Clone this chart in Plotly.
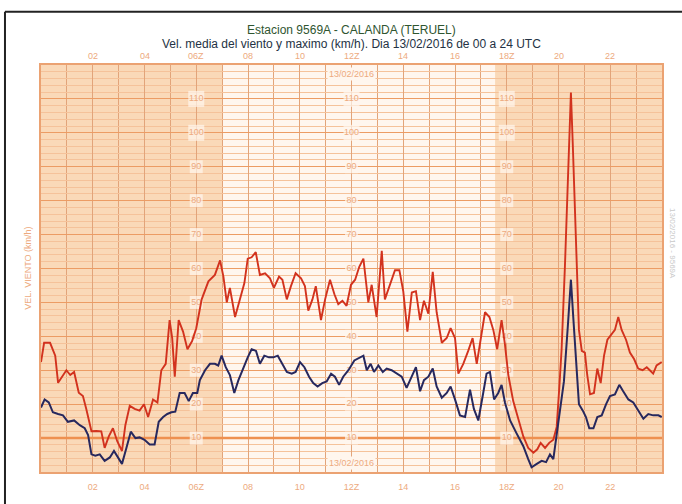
import plotly.graph_objects as go

# Wind record, station 9569A, 13/02/2016 (hours UTC, km/h)
gust_hours = [0.0, 0.12, 0.35, 0.55, 0.66, 0.81, 0.98, 1.13, 1.28, 1.46, 1.62, 1.75, 1.95, 2.14, 2.33,
              2.46, 2.62, 2.78, 2.95, 3.13, 3.26, 3.43, 3.62, 3.81, 3.98, 4.14, 4.33, 4.5, 4.65, 4.82,
              4.97, 5.07, 5.17, 5.32, 5.49, 5.66, 5.84, 6.0, 6.21, 6.47, 6.72, 6.92, 7.05, 7.18, 7.3,
              7.5, 7.69, 7.86, 7.99, 8.14, 8.3, 8.46, 8.66, 8.85, 9.0, 9.2, 9.33, 9.5, 9.66, 9.84,
              10.05, 10.2, 10.33, 10.49, 10.62, 10.82, 10.98, 11.17, 11.34, 11.49, 11.65, 11.81, 11.98,
              12.14, 12.3, 12.46, 12.65, 12.78, 12.97, 13.17, 13.29, 13.49, 13.68, 13.85, 14.0, 14.16,
              14.33, 14.49, 14.65, 14.8, 14.97, 15.14, 15.29, 15.49, 15.68, 15.83, 16.0, 16.13, 16.32,
              16.51, 16.68, 16.84, 16.99, 17.16, 17.33, 17.48, 17.63, 17.8, 17.93, 18.06, 18.25, 18.45,
              18.64, 18.83, 19.03, 19.18, 19.31, 19.48, 19.64, 19.8, 19.93, 20.03, 20.12, 20.25, 20.36,
              20.42, 20.48, 20.55, 20.64, 20.73, 20.79, 20.9, 21.02, 21.11, 21.22, 21.37, 21.5, 21.63,
              21.76, 21.89, 22.06, 22.18, 22.31, 22.44, 22.61, 22.76, 22.92, 23.08, 23.25, 23.41, 23.53,
              23.66, 23.79, 23.99]
gust_kmh = [32.4, 38.1, 38.1, 34.3, 26.3, 28.1, 30.0, 28.6, 29.5, 23.4, 22.4, 18.6, 12.0, 12.1, 12.0,
            7.1, 10.5, 12.9, 9.0, 6.2, 13.8, 19.5, 18.6, 18.1, 20.0, 16.2, 21.4, 20.5, 30.0, 31.9,
            44.8, 39.5, 28.1, 44.8, 41.4, 36.2, 38.6, 42.4, 50.9, 56.2, 58.1, 62.4, 57.6, 50.0, 54.3,
            45.7, 51.4, 55.7, 62.9, 63.3, 64.8, 58.1, 58.6, 57.1, 54.3, 57.6, 56.7, 50.9, 54.8, 58.6,
            57.1, 54.8, 47.6, 50.9, 54.8, 44.8, 50.9, 56.7, 52.4, 49.5, 50.5, 49.0, 55.2,
            56.7, 60.5, 62.9, 50.0, 55.2, 45.7, 65.2, 50.9, 55.2, 59.5, 59.5, 53.3, 41.4,
            52.9, 53.3, 44.8, 50.5, 46.7, 59.0, 47.1, 38.1, 39.5, 42.4, 39.5, 29.0, 31.9,
            35.7, 39.5, 31.9, 39.5, 47.1, 45.7, 41.9, 36.2, 44.8, 37.6, 28.6, 20.9, 15.2,
            10.5, 7.1, 5.7, 6.7, 8.6, 7.1, 8.6, 9.5, 13.3, 24.8, 36.2, 61.0, 83.8,
            97.1, 111.9, 97.1, 76.2, 61.0, 41.9, 35.7, 35.2, 28.6, 22.9, 23.3, 30.5, 26.2,
            34.3, 39.0, 40.9, 41.9, 45.7, 41.9, 39.0, 35.2, 33.3, 30.5, 30.0, 30.9, 30.0,
            29.0, 31.4, 32.4]

mean_hours = [0.0, 0.14, 0.3, 0.46, 0.66, 0.85, 1.04, 1.28, 1.5, 1.69, 1.82, 1.95, 2.1, 2.27, 2.46,
              2.66, 2.82, 2.98, 3.13, 3.3, 3.47, 3.65, 3.81, 4.0, 4.2, 4.39, 4.55, 4.72, 4.88, 5.04,
              5.19, 5.36, 5.55, 5.71, 5.87, 6.04, 6.14, 6.34, 6.53, 6.72, 6.85, 6.98, 7.14, 7.3, 7.47,
              7.63, 7.82, 7.99, 8.14, 8.31, 8.46, 8.63, 8.81, 8.98, 9.15, 9.33, 9.5, 9.69, 9.84, 10.01,
              10.18, 10.36, 10.52, 10.69, 10.87, 11.04, 11.21, 11.36, 11.52, 11.68, 11.88, 12.11, 12.33,
              12.46, 12.59, 12.74, 12.87, 13.04, 13.21, 13.36, 13.55, 13.75, 13.94, 14.13, 14.33, 14.49,
              14.65, 14.8, 14.97, 15.14, 15.29, 15.49, 15.68, 15.83, 16.0, 16.19, 16.39, 16.58, 16.73,
              16.9, 17.07, 17.22, 17.35, 17.51, 17.67, 17.8, 17.93, 18.13, 18.38, 18.64, 18.83, 18.96,
              19.16, 19.35, 19.52, 19.67, 19.8, 19.9, 20.06, 20.21, 20.36, 20.48, 20.57, 20.68, 20.79,
              20.94, 21.06, 21.19, 21.35, 21.5, 21.67, 21.84, 21.99, 22.18, 22.35, 22.5, 22.7, 22.89,
              23.08, 23.28, 23.47, 23.66, 23.86, 23.99]
mean_kmh = [19.0, 21.4, 20.5, 17.6, 17.1, 16.7, 14.8, 15.2, 13.8, 12.9, 10.9, 5.2, 4.8, 5.2, 3.3,
            4.3, 6.2, 4.3, 2.4, 7.1, 11.9, 10.0, 10.2, 9.5, 8.1, 8.1, 14.8, 16.2, 17.1, 17.6,
            17.8, 23.3, 23.3, 20.9, 23.3, 23.3, 27.1, 30.0, 31.9, 31.9, 31.4, 34.3, 30.9, 28.6, 23.3,
            27.1, 30.9, 33.8, 36.2, 35.7, 31.9, 34.3, 33.8, 33.8, 34.3, 31.9, 29.5, 29.0, 29.5, 32.4,
            30.9, 28.1, 26.2, 25.2, 26.2, 26.7, 29.0, 28.1, 25.7, 28.1, 30.0, 32.9, 33.8,
            34.3, 30.0, 31.9, 29.5, 31.4, 29.5, 30.5, 30.0, 29.0, 28.1, 24.8, 28.1, 30.9,
            23.8, 27.1, 28.1, 30.5, 25.2, 21.9, 23.3, 25.2, 21.4, 16.7, 16.2, 24.3, 18.6,
            15.2, 22.4, 29.0, 29.5, 21.4, 23.3, 25.7, 20.5, 15.2, 11.4, 7.6, 3.8, 1.4,
            2.4, 3.3, 2.9, 5.2, 3.8, 9.5, 17.1, 26.7, 42.9, 56.7, 45.7, 33.3, 20.0,
            18.1, 16.2, 12.9, 12.9, 16.2, 16.7, 20.0, 22.4, 22.9, 25.7, 23.8, 21.4, 20.5,
            18.1, 15.7, 17.1, 16.7, 16.7, 16.2]

hour_ticks = [2, 4, 6, 8, 10, 12, 14, 16, 18, 20, 22]
hour_labels = ["02", "04", "06Z", "08", "10", "12Z", "14", "16", "18Z", "20", "22"]
speed_labels = [10, 20, 30, 40, 50, 60, 70, 80, 90, 100, 110]
label_hours = [6, 12, 18]
night_spans = [(0, 7.0), (17.55, 24)]

ORANGE = "#EBA272"
TXT = "#EDAA7E"
BG = "#FFF6EE"
FONT = "Liberation Sans Narrow, Arial Narrow, Liberation Sans, sans-serif"

fig = go.Figure()
# heavier guide line at 10 km/h
fig.add_trace(go.Scatter(x=[0, 24], y=[10, 10], mode="lines", hoverinfo="skip",
                         line=dict(color="#EE9050", width=2.5), name="ref"))
# speed scale written along the 06Z, 12Z and 18Z lines (beneath the curves)
lab_x = [h for h in label_hours for _ in speed_labels]
lab_y = [v for _ in label_hours for v in speed_labels]
fig.add_trace(go.Scatter(
    x=lab_x, y=lab_y, mode="markers+text", text=[str(v) for v in lab_y],
    textposition="middle center", hoverinfo="skip", name="escala",
    textfont=dict(family=FONT, size=9, color=TXT),
    marker=dict(symbol="square", color=BG, size=[16 if v >= 100 else 13 for v in lab_y],
                line=dict(width=0))))
fig.add_trace(go.Scatter(x=gust_hours, y=gust_kmh, mode="lines",
                         line=dict(color="#D2321E", width=1.9), name="Racha"))
fig.add_trace(go.Scatter(x=mean_hours, y=mean_kmh, mode="lines",
                         line=dict(color="#27285E", width=2), name="Media"))

shapes = []
# night shading behind the grid
for x0, x1 in night_spans:
    shapes.append(dict(type="rect", xref="x", yref="y", x0=x0, x1=x1, y0=0, y1=120,
                       fillcolor="#FAD9B8", line=dict(width=0), layer="below"))
# page frame
shapes.append(dict(type="line", xref="paper", yref="paper", x0=-0.058, x1=1.2, y0=1.131, y1=1.131,
                   line=dict(color="#222222", width=2)))
shapes.append(dict(type="line", xref="paper", yref="paper", x0=-0.058, x1=-0.058, y0=1.131, y1=-0.2,
                   line=dict(color="#222222", width=2)))

annotations = []
for h, t in zip(hour_ticks, hour_labels):
    annotations.append(dict(x=h, y=1.0, xref="x", yref="paper", yanchor="bottom", yshift=2,
                            text=t, showarrow=False, font=dict(family=FONT, size=9, color=TXT)))
annotations += [
    dict(x=12, y=1.0, xref="x", yref="paper", yanchor="top", yshift=-2, text="13/02/2016",
         showarrow=False, font=dict(family=FONT, size=9, color=TXT), bgcolor=BG),
    dict(x=12, y=0.0, xref="x", yref="paper", yanchor="bottom", yshift=2, text="13/02/2016",
         showarrow=False, font=dict(family=FONT, size=9, color=TXT), bgcolor=BG),
    dict(x=-0.022, y=0.5, xref="paper", yref="paper", xanchor="center", yanchor="middle",
         text="VEL. VIENTO (km/h)", textangle=-90,
         showarrow=False, font=dict(family=FONT, size=9, color=TXT)),
    dict(x=1.0177, y=0.56, xref="paper", yref="paper", xanchor="center", yanchor="middle",
         text="13/02/2016 - 9569A", textangle=90,
         showarrow=False, font=dict(family=FONT, size=8, color="#C9C9C9")),
    dict(x=0.5, y=1.0857, xref="paper", yref="paper", yanchor="middle", borderpad=0,
         text="Estacion 9569A - CALANDA (TERUEL)",
         showarrow=False, font=dict(family=FONT, size=12, color="#2F5530")),
    dict(x=0.5, y=1.0512, xref="paper", yref="paper", yanchor="middle", borderpad=0,
         text="Vel. media del viento y maximo (km/h). Dia 13/02/2016 de 00 a 24 UTC",
         showarrow=False, font=dict(family=FONT, size=12, color="#243244")),
]

fig.update_layout(
    width=682, height=504,
    margin=dict(l=41, r=20, t=65, b=19),
    paper_bgcolor="white", plot_bgcolor=BG,
    showlegend=False,
    shapes=shapes, annotations=annotations,
    xaxis=dict(range=[0, 24], tickvals=hour_ticks, ticktext=hour_labels, ticks="",
               tickfont=dict(family=FONT, size=9, color=TXT), ticklabelstandoff=5,
               showgrid=True, gridcolor="#E2A47A", gridwidth=1,
               minor=dict(dtick=1, showgrid=True, gridcolor="#E2A47A", gridwidth=1),
               showline=True, mirror=True, linecolor=ORANGE, linewidth=1.5, zeroline=False),
    yaxis=dict(range=[0, 120], dtick=10, showticklabels=False, ticks="",
               showgrid=True, gridcolor="#EC9C64", gridwidth=1.3,
               minor=dict(dtick=2, showgrid=True, gridcolor="#F5C29A", gridwidth=1),
               showline=True, mirror=True, linecolor=ORANGE, linewidth=1.5, zeroline=False),
)

fig.write_html("out.html")
